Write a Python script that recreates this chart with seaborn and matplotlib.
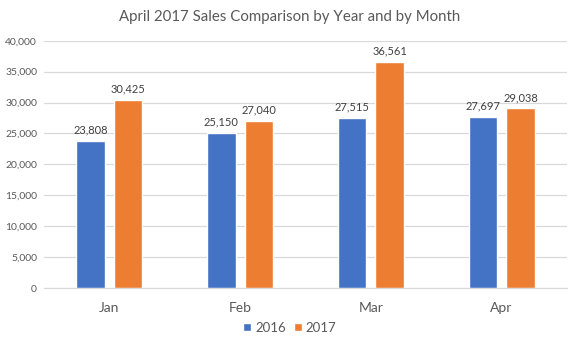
import matplotlib
matplotlib.use("Agg")
import matplotlib.pyplot as plt
import seaborn as sns
import pandas as pd
from matplotlib.patches import Patch

months = ["Jan", "Feb", "Mar", "Apr"]
years = ["2016", "2017"]
sales_2016 = [23808, 25150, 27515, 27697]
sales_2017 = [30425, 27040, 36561, 29038]
yticks = [0, 5000, 10000, 15000, 20000, 25000, 30000, 35000, 40000]
title = "April 2017 Sales Comparison by Year and by Month"
colors = ["#4472C4", "#ED7D31"]

df = pd.DataFrame({
    "Month": months * 2,
    "Year": [years[0]] * 4 + [years[1]] * 4,
    "Sales": sales_2016 + sales_2017,
})

sns.set_style("white")
plt.rcParams["font.family"] = ["Lato", "DejaVu Sans"]

fig = plt.figure(figsize=(5.8, 3.5), dpi=100)
ax = fig.add_axes([0.0759, 0.177, 0.9017, 0.7067])

sns.barplot(data=df, x="Month", y="Sales", hue="Year", palette=colors,
            width=0.574, gap=0.24, ax=ax, legend=False, saturation=1)

for cont in ax.containers:
    ax.bar_label(cont, labels=[f"{v:,.0f}" for v in cont.datavalues],
                 padding=4, fontsize=8, color="#404040")

ax.set_ylim(0, 40000)
ax.set_yticks(yticks)
ax.set_yticklabels([f"{v:,}" for v in yticks])
ax.set_xlim(-0.5, 3.5)
ax.grid(axis="y", color="#D9D9D9", linewidth=0.9)
ax.set_axisbelow(True)
for s in ["top", "right", "left"]:
    ax.spines[s].set_visible(False)
ax.spines["bottom"].set_color("#D9D9D9")
ax.tick_params(axis="y", length=0, labelsize=7.5, labelcolor="#595959", pad=5)
ax.tick_params(axis="x", length=0, labelsize=10, labelcolor="#595959", pad=10)
ax.set_xlabel("")
ax.set_ylabel("")

fig.suptitle(title, x=0.5, y=0.972, fontsize=10.8, color="#595959")

handles = [Patch(facecolor=c, label=y) for c, y in zip(colors, years)]
fig.legend(handles=handles, loc="center", bbox_to_anchor=(0.5, 0.063), ncol=2,
           frameon=False, fontsize=9.5, handlelength=0.6, handleheight=0.6,
           columnspacing=0.6, handletextpad=0.3, labelcolor="#595959")

fig.savefig("out.png", dpi=100)
